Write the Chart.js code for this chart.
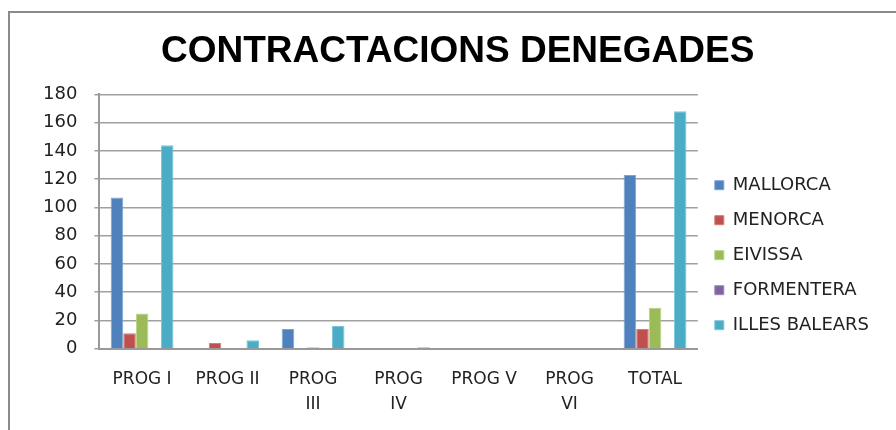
<!DOCTYPE html>
<html>
<head>
<meta charset="utf-8">
<script src="https://cdn.jsdelivr.net/npm/chart.js@4"></script>
<style>
  body { margin: 0; background: #fff; }
  #wrap { position: relative; width: 896px; height: 430px; overflow: hidden; }
  #frame { position: absolute; left: 8px; top: 11px; width: 900px; height: 430px;
           border-left: 2px solid #8a8a8a; border-top: 2px solid #8a8a8a; }
  #myChart { position: absolute; left: 0; top: 0; }
</style>
</head>
<body>
<div id="wrap">
  <div id="frame"></div>
  <canvas id="myChart" width="896" height="430"></canvas>
</div>
<script>
// Data
const categories = ['PROG I', 'PROG II', ['PROG', 'III'], ['PROG', 'IV'], 'PROG V', ['PROG', 'VI'], 'TOTAL'];
const mallorca = [107, 0, 14, 0, 0, 0, 123];
const menorca = [11, 4, 0, 0, 0, 0, 14];
const eivissa = [25, 0, 1, 0, 0, 0, 29];
const formentera = [0, 0, 0, 0, 0, 0, 0];
const illesBalears = [144, 6, 16, 1, 0, 0, 168];
const yTicks = [0, 20, 40, 60, 80, 100, 120, 140, 160, 180];

function series(label, data, color, edge) {
    return {
        label,
        data,
        backgroundColor: color,
        borderColor: edge,
        borderWidth: 1,
        categoryPercentage: 0.735,
        barPercentage: 1
    };
}

const ctx = document.getElementById('myChart').getContext('2d');
const myChart = new Chart(ctx, {
    type: 'bar',
    data: {
        labels: categories,
        datasets: [
            series('MALLORCA', mallorca, '#4F81BD', '#7ea3d3'),
            series('MENORCA', menorca, '#C0504D', '#d67b78'),
            series('EIVISSA', eivissa, '#9BBB59', '#b8d27f'),
            series('FORMENTERA', formentera, '#8064A2', '#a088bd'),
            series('ILLES BALEARS', illesBalears, '#4BACC6', '#7cc6d9')
        ]
    },
    options: {
        responsive: false,
        animation: false,
        layout: { padding: { top: 18, left: 26, right: 17, bottom: -6 } },
        plugins: {
            title: {
                display: true,
                text: ' CONTRACTACIONS DENEGADES',
                color: '#000',
                font: { family: 'Liberation Sans', size: 37, weight: 'bold' },
                padding: { top: 12, bottom: 20 }
            },
            legend: {
                position: 'right',
                align: 'center',
                // empty title only pushes the items down
                title: { display: true, text: '', font: { size: 12 }, padding: { top: 42, bottom: 0 } },
                labels: {
                    boxWidth: 9,
                    boxHeight: 9,
                    padding: 17,
                    color: '#222',
                    font: { family: 'DejaVu Sans', size: 18 }
                }
            },
            tooltip: { enabled: false }
        },
        scales: {
            x: {
                grid: { display: false, drawTicks: false },
                border: { display: true, color: '#999', width: 2 },
                ticks: {
                    color: '#222',
                    font: { family: 'DejaVu Sans', size: 17, lineHeight: 1.45 },
                    padding: 19,
                    maxRotation: 0,
                    autoSkip: false
                }
            },
            y: {
                min: 0,
                max: 180,
                afterBuildTicks: axis => { axis.ticks = yTicks.map(v => ({ value: v })); },
                grid: { color: '#a0a0a0', lineWidth: 1.5, tickLength: 5 },
                border: { display: true, color: '#999', width: 2 },
                ticks: {
                    color: '#222',
                    font: { family: 'DejaVu Sans', size: 18 },
                    padding: 17
                }
            }
        }
    }
});
</script>
</body>
</html>
